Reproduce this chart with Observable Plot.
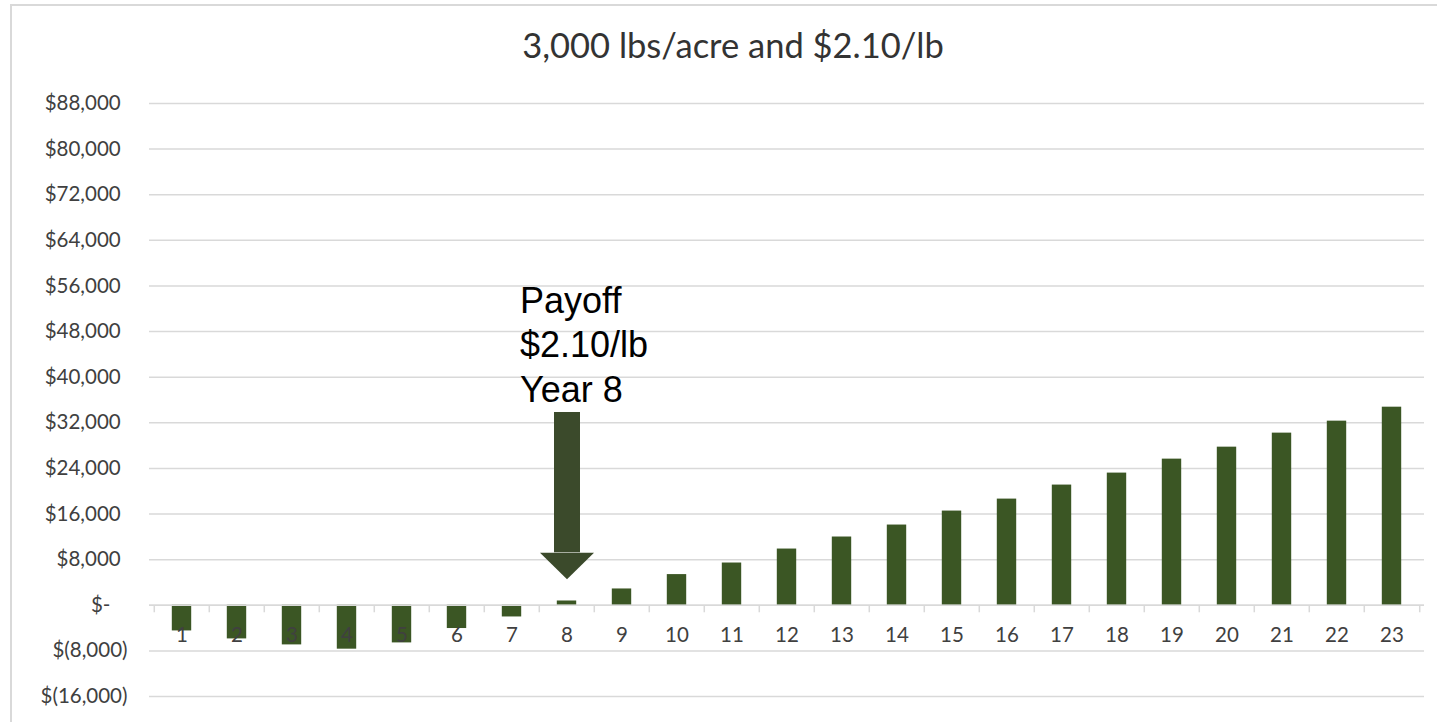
<!DOCTYPE html>
<html>
<head>
<meta charset="utf-8">
<script src="https://cdn.jsdelivr.net/npm/d3@7"></script>
<script src="https://cdn.jsdelivr.net/npm/@observablehq/plot@0.6"></script>
<style>
  html, body { margin: 0; padding: 0; background: #fff; overflow: hidden; }
  #wrap { position: relative; width: 1437px; height: 722px; }
  #frame { position: absolute; left: 10px; top: 4px; width: 2000px; height: 2000px;
           border: 2px solid #d9d9d9; box-sizing: border-box; pointer-events: none; }
  #title { position: relative; box-sizing: border-box; height: 80px; padding-top: 25px;
           margin-left: 11px; width: 1444px; text-align: center;
           font-family: Lato, "Open Sans", sans-serif; font-size: 34.5px; line-height: 40px; color: #333; }
  #chart svg { display: block; }
</style>
</head>
<body>
<div id="wrap">
  <div id="frame"></div>
  <div id="title"></div>
  <div id="chart"></div>
</div>
<script>
// ---- data ----
const titleText = "3,000 lbs/acre and $2.10/lb";
const years = ["1","2","3","4","5","6","7","8","9","10","11","12","13","14","15","16","17","18","19","20","21","22","23"];
const profit = [-4500,-5900,-6950,-7700,-6600,-4080,-2050,750,2860,5380,7410,9860,11970,14070,16520,18620,21080,23180,25630,27730,30190,32290,34740];
const yTicks = [-16000,-8000,0,8000,16000,24000,32000,40000,48000,56000,64000,72000,80000,88000];
const yTickLabels = ["$(16,000)","$(8,000)","$-","$8,000","$16,000","$24,000","$32,000","$40,000","$48,000","$56,000","$64,000","$72,000","$80,000","$88,000"];
const noteLines = ["Payoff","$2.10/lb","Year 8"];
const noteYear = "8";
const noteTop = 56800;      // value at top of the note text
const arrowTop = 33800;     // value at top of arrow shaft
const arrowHeadTop = 9200;  // value where the arrow head starts

// ---- styles ----
const barColor = "#3b5624";
const arrowColor = "#3b4a2b";
const gridColor = "#d9d9d9";
const labelColor = "#404040";
const W = 1437, H = 642, ML = 149, MR = 13, MT = 23, MB = 26;
const step = (W - ML - MR) / years.length;

document.getElementById("title").textContent = titleText;

const data = years.map((y, i) => ({year: y, value: profit[i]}));
const labelOf = new Map(yTicks.map((t, i) => [t, yTickLabels[i]]));
const fmt = (t) => {
  const s = labelOf.get(t);
  if (t > 0) return s + "\u2004";
  if (t === 0) return s + "\u2002\u2004";
  return s;
};

const tickSymbol = {draw(ctx, size) { const l = Math.sqrt(size / Math.PI); ctx.moveTo(0, 0); ctx.lineTo(0, l); }};
const headSymbol = {draw(ctx, size) { const r = Math.sqrt(size / Math.PI); ctx.moveTo(-r, 0); ctx.lineTo(r, 0); ctx.lineTo(0, r * 0.98); ctx.closePath(); }};

const chart = Plot.plot({
  width: W, height: H,
  marginTop: MT, marginBottom: MB, marginLeft: ML, marginRight: MR,
  style: {fontFamily: "Lato, 'Open Sans', sans-serif", background: "transparent", overflow: "visible"},
  x: {type: "band", domain: years, padding: 0, axis: null},
  y: {domain: [-16000, 88000], axis: null},
  marks: [
    Plot.ruleY(yTicks, {stroke: gridColor, strokeWidth: 1.5}),
    Plot.axisY({ticks: yTicks, tickSize: 0, tickPadding: 22, tickFormat: fmt, fontSize: 20.5, fill: labelColor, label: null}),
    Plot.barY(data, {x: "year", y: "value", fill: barColor, insetLeft: 17.8, insetRight: 17.8}),
    Plot.ruleY([0], {stroke: gridColor, strokeWidth: 1.5}),
    Plot.dot(years, {x: d => d, y: () => 0, symbol: tickSymbol, r: 7, fill: "none", stroke: gridColor, strokeWidth: 1.5, dx: -step / 2}),
    Plot.dot(years.slice(-1), {x: d => d, y: () => 0, symbol: tickSymbol, r: 7, fill: "none", stroke: gridColor, strokeWidth: 1.5, dx: step / 2}),
    Plot.text(years, {x: d => d, y: () => 0, dy: 30, text: d => d, fontSize: 20.5, fill: labelColor}),
    Plot.ruleX([noteYear], {x: d => d, y1: () => arrowTop, y2: () => arrowHeadTop, stroke: arrowColor, strokeWidth: 26}),
    Plot.dot([noteYear], {x: d => d, y: () => arrowHeadTop, symbol: headSymbol, r: 27, fill: arrowColor, stroke: "none"}),
    Plot.text([noteLines.join("\n")], {x: () => noteYear, y: () => noteTop, text: d => d, textAnchor: "start", lineAnchor: "top", dx: -47, fontSize: 36, lineHeight: 1.236, fontFamily: "'Liberation Sans', Arial, sans-serif", fill: "#000"})
  ]
});
document.getElementById("chart").appendChild(chart);
</script>
</body>
</html>
